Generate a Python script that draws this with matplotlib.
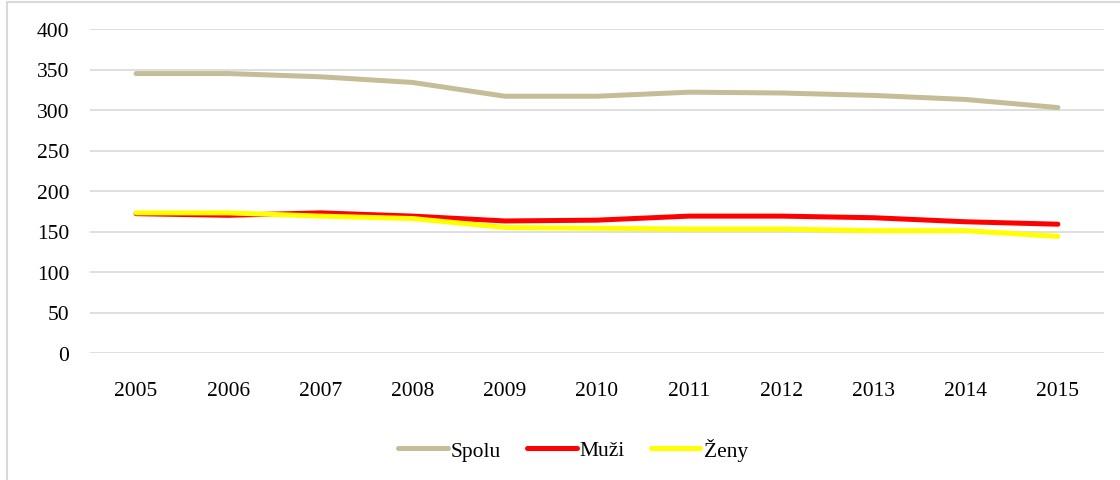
import matplotlib.pyplot as plt
from matplotlib.patches import Rectangle

years = ['2005', '2006', '2007', '2008', '2009', '2010', '2011', '2012', '2013', '2014', '2015']
spolu = [345, 345, 341, 334, 317, 317, 322, 321, 318, 313, 303]
muzi = [172, 170, 173, 169, 163, 164, 169, 169, 167, 162, 159]
zeny = [173, 173, 169, 166, 155, 154, 153, 153, 151, 151, 144]

plt.rcParams['font.family'] = ['Liberation Serif', 'DejaVu Serif']

fig = plt.figure(figsize=(11.2, 4.81), dpi=100)
ax = fig.add_axes([90 / 1120, 127 / 481, 1014 / 1120, 324 / 481])

x = range(len(years))
ax.plot(x, spolu, color='#C4BD97', lw=3.6, solid_capstyle='round', label='Spolu')
ax.plot(x, muzi, color='#FF0000', lw=3.6, solid_capstyle='round', label='Muži')
ax.plot(x, zeny, color='#FFFF00', lw=3.6, solid_capstyle='round', label='Ženy')

ax.set_xlim(-0.5, len(years) - 0.5)
ax.set_ylim(0, 400)
ax.set_yticks(range(0, 401, 50))
ax.set_xticks(list(x))
ax.set_xticklabels(years)
ax.grid(axis='y', color='#D9D9D9', lw=1.2)
ax.set_axisbelow(True)
for s in ax.spines.values():
    s.set_visible(False)
ax.tick_params(length=0, labelsize=15.5, colors='#000000')
ax.tick_params(axis='x', pad=20)
ax.tick_params(axis='y', pad=15)

fig.legend(loc='center', bbox_to_anchor=(573 / 1120, 1 - 450 / 481), ncol=3, frameon=False,
           fontsize=15.5, handlelength=2.3, handletextpad=0.15, columnspacing=1.2)

fig.patches.append(Rectangle((7 / 1120, -0.1), 1.1, 1.1 - 3 / 481, transform=fig.transFigure,
                             fill=False, edgecolor='#D9D9D9', lw=1.5))

fig.savefig('out.png', dpi=100)
